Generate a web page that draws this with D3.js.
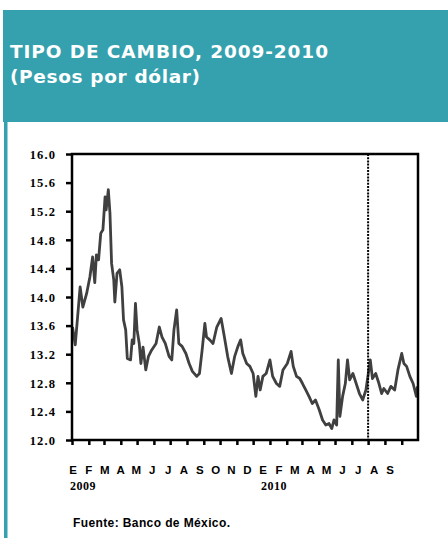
<!DOCTYPE html>
<html>
<head>
<meta charset="utf-8">
<script src="https://d3js.org/d3.v7.min.js"></script>
<style>
  body { margin: 0; background: #fff; }
  svg { display: block; }
</style>
</head>
<body>
<svg id="chart" width="448" height="538"></svg>
<script>
// tipo de cambio FIX, pesos por dolar
const dates = [
  "2009-01-02","2009-01-07","2009-01-16","2009-01-21","2009-01-28","2009-02-03","2009-02-08","2009-02-12",
  "2009-02-15","2009-02-19","2009-02-23","2009-02-27","2009-03-03","2009-03-05","2009-03-09","2009-03-12",
  "2009-03-15","2009-03-19","2009-03-21","2009-03-25","2009-03-30","2009-04-03","2009-04-06","2009-04-10",
  "2009-04-13","2009-04-19","2009-04-22","2009-04-25","2009-04-28","2009-05-01","2009-05-05","2009-05-08",
  "2009-05-12","2009-05-17","2009-05-22","2009-05-28","2009-06-05","2009-06-11","2009-06-16","2009-06-22",
  "2009-06-29","2009-07-04","2009-07-08","2009-07-13","2009-07-17","2009-07-23","2009-07-30","2009-08-05",
  "2009-08-11","2009-08-19","2009-08-24","2009-08-29","2009-09-03","2009-09-06","2009-09-12","2009-09-18",
  "2009-09-25","2009-10-03","2009-10-09","2009-10-15","2009-10-22","2009-10-28","2009-11-03","2009-11-08",
  "2009-11-12","2009-11-19","2009-11-25","2009-12-01","2009-12-06","2009-12-10","2009-12-14","2009-12-19",
  "2009-12-25","2010-01-01","2010-01-06","2010-01-13","2010-01-19","2010-01-25","2010-02-02","2010-02-09",
  "2010-02-13","2010-02-19","2010-02-25","2010-03-02","2010-03-08","2010-03-14","2010-03-20","2010-03-26",
  "2010-04-02","2010-04-08","2010-04-14","2010-04-20","2010-04-25","2010-04-29","2010-05-04","2010-05-07",
  "2010-05-10","2010-05-15","2010-05-20","2010-05-24","2010-05-28","2010-06-03","2010-06-09","2010-06-15",
  "2010-06-21","2010-06-27","2010-07-05","2010-07-09","2010-07-15","2010-07-21","2010-07-26","2010-07-30",
  "2010-08-06","2010-08-12","2010-08-19","2010-08-25","2010-09-01","2010-09-05","2010-09-10","2010-09-16",
  "2010-09-22","2010-09-28","2010-09-30"
];
const values = [
  13.58,13.33,14.14,13.86,14.05,14.28,14.56,14.20,
  14.59,14.52,14.89,14.94,15.40,15.22,15.50,15.17,
  14.47,14.24,13.93,14.33,14.38,14.14,13.68,13.54,
  13.14,13.12,13.40,13.35,13.91,13.54,13.35,13.07,
  13.30,12.98,13.17,13.26,13.35,13.58,13.44,13.35,
  13.17,13.12,13.54,13.82,13.35,13.31,13.21,13.07,
  12.96,12.89,12.93,13.26,13.63,13.44,13.40,13.35,
  13.58,13.70,13.44,13.17,12.93,13.17,13.31,13.40,
  13.21,13.07,13.03,12.93,12.61,12.89,12.70,12.89,
  12.93,13.12,12.89,12.79,12.75,12.98,13.07,13.24,
  13.03,12.89,12.86,12.79,12.70,12.61,12.51,12.56,
  12.42,12.28,12.21,12.23,12.16,12.28,12.21,13.12,
  12.33,12.61,12.79,13.12,12.84,12.93,12.79,12.65,
  12.56,12.70,13.12,12.86,12.93,12.79,12.65,12.72,
  12.65,12.75,12.70,12.98,13.21,13.07,13.03,12.89,
  12.79,12.61,12.75
];
const monthLabels = ["E","F","M","A","M","J","J","A","S","O","N","D","E","F","M","A","M","J","J","A","S"];
const yearLabels = [["2009", "2009-01-01"], ["2010", "2010-01-01"]];
const yTicks = [12.0, 12.4, 12.8, 13.2, 13.6, 14.0, 14.4, 14.8, 15.2, 15.6, 16.0];
const marker = "2010-07-01";

const parse = d3.timeParse("%Y-%m-%d");
const data = dates.map((d, i) => ({ date: parse(d), value: values[i] }));

const svg = d3.select("#chart");

// cabecera
svg.append("rect").attr("x", 3).attr("y", 10).attr("width", 445).attr("height", 112).attr("fill", "#35a1ae");
svg.append("rect").attr("x", 4).attr("y", 120).attr("width", 3.5).attr("height", 418).attr("fill", "#35a1ae");

svg.append("text").attr("x", 10).attr("y", 58)
  .attr("fill", "#fff").attr("font-family", "DejaVu Sans").attr("font-weight", "bold")
  .attr("font-size", 18.5).attr("textLength", 318).attr("lengthAdjust", "spacing")
  .text("TIPO DE CAMBIO, 2009-2010");
svg.append("text").attr("x", 10).attr("y", 83)
  .attr("fill", "#fff").attr("font-family", "DejaVu Sans").attr("font-weight", "bold")
  .attr("font-size", 18.5).attr("textLength", 190).attr("lengthAdjust", "spacing")
  .text("(Pesos por dólar)");

const pLeft = 72, pRight = 418, pTop = 154, pBottom = 440;

const x = d3.scaleTime()
  .domain([parse("2009-01-01"), parse("2010-10-01")])
  .range([pLeft, pRight]);
const y = d3.scaleLinear().domain([12, 16]).range([pBottom, pTop]);

const g = svg.append("g");

// eje y
const yAxis = g.append("g").attr("transform", `translate(${pLeft},0)`)
  .call(d3.axisLeft(y).tickValues(yTicks).tickFormat(d3.format(".1f")).tickSize(6).tickSizeOuter(0));
yAxis.select(".domain").remove();
yAxis.selectAll(".tick line").attr("stroke", "#000").attr("stroke-width", 2.5);
yAxis.selectAll(".tick text")
  .attr("x", -16).attr("dy", "0.35em")
  .attr("font-family", "Liberation Serif").attr("font-weight", "bold")
  .attr("font-size", 12.5).attr("letter-spacing", 1.1).attr("fill", "#000");

// eje x
const months = d3.timeMonth.range(parse("2009-01-01"), parse("2010-10-01"));
const xAxis = g.append("g").attr("transform", `translate(0,${pBottom})`)
  .call(d3.axisBottom(x).tickValues(months).tickFormat("").tickSize(5).tickSizeOuter(0));
xAxis.select(".domain").remove();
xAxis.selectAll(".tick line").attr("stroke", "#000").attr("stroke-width", 2.5);

const lab = d3.scaleLinear().domain([0, monthLabels.length - 1]).range([73, 390]);
g.append("g").selectAll("text").data(monthLabels).join("text")
  .attr("x", (d, i) => lab(i)).attr("y", 474)
  .attr("text-anchor", "middle")
  .attr("font-family", "Liberation Sans").attr("font-weight", "bold")
  .attr("font-size", 11.5).attr("fill", "#000")
  .text(d => d);

g.append("g").selectAll("text").data(yearLabels).join("text")
  .attr("x", d => x(parse(d[1])) - 2 - (d[0] === "2010" ? 7 : 0)).attr("y", 490)
  .attr("font-family", "Liberation Serif").attr("font-weight", "bold")
  .attr("font-size", 12).attr("letter-spacing", 0.5).attr("fill", "#000")
  .text(d => d[0]);

// serie
g.append("path").datum(data)
  .attr("fill", "none").attr("stroke", "#404040").attr("stroke-width", 2.8)
  .attr("stroke-linejoin", "round")
  .attr("d", d3.line().x(d => x(d.date)).y(d => y(d.value)));

// linea punteada
g.append("line")
  .attr("x1", x(parse(marker))).attr("x2", x(parse(marker)))
  .attr("y1", pTop).attr("y2", pBottom)
  .attr("stroke", "#000").attr("stroke-width", 2).attr("stroke-dasharray", "2,1.2");

// marco
g.append("rect").attr("x", pLeft).attr("y", pTop)
  .attr("width", pRight - pLeft).attr("height", pBottom - pTop)
  .attr("fill", "none").attr("stroke", "#000").attr("stroke-width", 2.5);

svg.append("text").attr("x", 73).attr("y", 527)
  .attr("font-family", "Liberation Sans").attr("font-weight", "bold")
  .attr("font-size", 12).attr("textLength", 157).attr("lengthAdjust", "spacing")
  .attr("fill", "#000")
  .text("Fuente: Banco de México.");
</script>
</body>
</html>
